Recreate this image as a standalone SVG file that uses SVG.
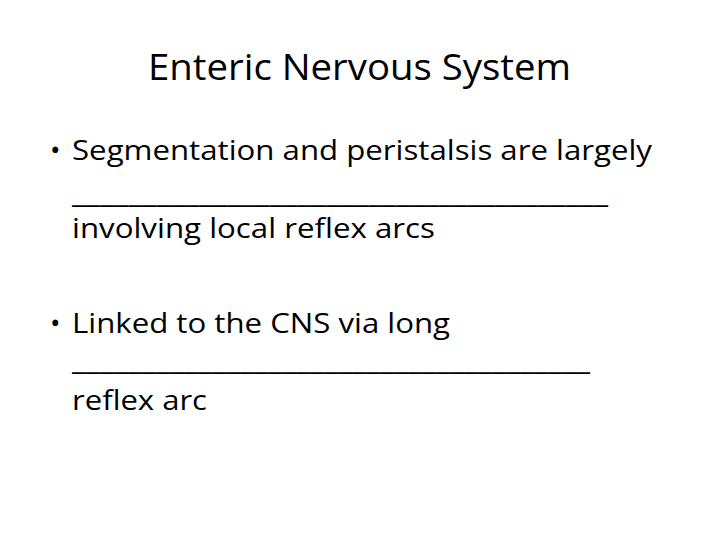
<svg xmlns="http://www.w3.org/2000/svg" width="720" height="540" viewBox="0 0 720 540">
<style>
text{font-family:"Open Sans","Liberation Sans",sans-serif;fill:#000}
.b{font-size:28px}
</style>
<rect width="720" height="540" fill="#fff"/>
<g id="title"><text x="359.5" y="80" font-size="36" text-anchor="middle" textLength="423" lengthAdjust="spacingAndGlyphs">Enteric Nervous System</text></g>
<g id="bullet1">
<text class="b" x="50" y="160">•</text>
<text class="b" x="72" y="160" textLength="580" lengthAdjust="spacingAndGlyphs">Segmentation and peristalsis are largely</text>
<text class="b" x="72" y="203" textLength="536" lengthAdjust="spacingAndGlyphs">______________________________________</text>
<text class="b" x="72" y="238" textLength="363" lengthAdjust="spacingAndGlyphs">involving local reflex arcs</text>
</g>
<g id="bullet2">
<text class="b" x="50" y="333">•</text>
<text class="b" x="72" y="333" textLength="378" lengthAdjust="spacingAndGlyphs">Linked to the CNS via long</text>
<text class="b" x="72" y="370" textLength="518" lengthAdjust="spacingAndGlyphs">_____________________________________</text>
<text class="b" x="72" y="410" textLength="135" lengthAdjust="spacingAndGlyphs">reflex arc</text>
</g>
</svg>
